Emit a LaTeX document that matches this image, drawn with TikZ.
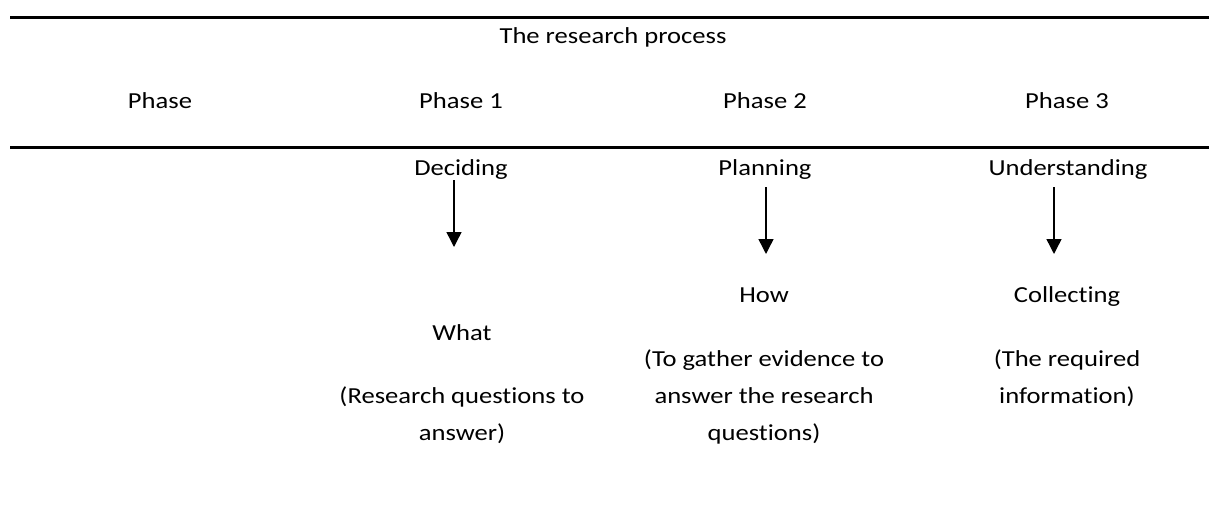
\documentclass[tikz,border=0pt]{standalone}
\usepackage{fontspec}
\setmainfont{Carlito}[FakeStretch=1.16,Ligatures=NoCommon]
\usetikzlibrary{arrows.meta}

\tikzset{
  txt/.style={font=\fontsize{11pt}{17.76pt}\selectfont, anchor=base, inner sep=0pt, align=center},
  rule/.style={line width=1pt},
  arr/.style={line width=0.7pt, -{Triangle[width=7.2pt,length=7.2pt]}}
}

\begin{document}
\begin{tikzpicture}[x=0.48pt,y=-0.48pt]
		\useasboundingbox (0,0) rectangle (1209,512);
		
		% table rules
		\draw[rule] (10,17.5) -- (1209,17.5);
		\draw[rule] (10,147.5) -- (1209,147.5);
		
		% header
		\node[txt] (title) at (613,44) {The research process};
		\node[txt] (ph0) at (160,108) {Phase};
		\foreach \x/\n in {461/1,765/2,1067/3}{
			\node[txt] (ph\n) at (\x,108) {Phase \n};
		}
		
		% first row of each phase
		\node[txt] (dec) at (461,175) {Deciding};
		\node[txt] (pla) at (765,175) {Planning};
		\node[txt] (und) at (1068,175) {Understanding};
		
		% arrows
		\foreach \x/\t/\n in {454/180/1,766/187/2,1054/187/3}{
			\coordinate (s\n) at (\x,\t);
			\coordinate (e\n) at (\x,\t+67);
		}
		\draw[arr] (s1) -- (e1);
		\draw[arr] (s2) -- (e2);
		\draw[arr] (s3) -- (e3);
		
		% second row
		\node[txt] (how) at (764,302) {How};
		\node[txt] (col) at (1067,302) {Collecting};
		\node[txt] (what) at (462,340) {What};
		
		% explanations (base = last line)
		\node[txt] (rq) at (462,440) {(Research questions to\\answer)};
		\node[txt] (ev) at (764,440) {(To gather evidence to\\answer the research\\questions)};
		\node[txt] (inf) at (1067,403) {(The required\\information)};
\end{tikzpicture}
\end{document}
